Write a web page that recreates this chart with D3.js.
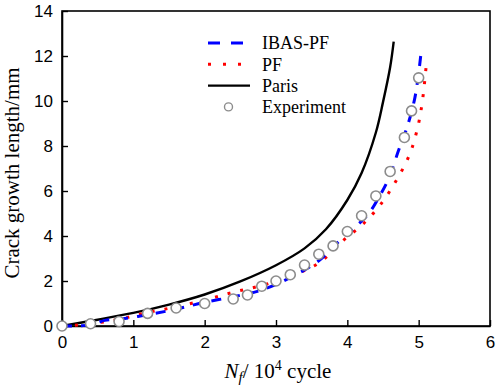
<!DOCTYPE html>
<html>
<head>
<meta charset="utf-8">
<script src="https://cdn.jsdelivr.net/npm/d3@7"></script>
<style>
  body { margin: 0; background: #fff; }
  svg { display: block; }
</style>
</head>
<body>
<div id="chart"></div>
<script>

// IBAS-PF (blue dashed)
var ibasX = [ 0, 0.4, 0.6, 0.8, 1.2, 1.6, 2.0, 2.4, 2.8, 3.2, 3.6, 3.88, 4.09, 4.3, 4.46, 4.58, 4.72, 4.84, 4.94, 4.99, 5.03 ];
var ibasY = [ 0, 0.05, 0.25, 0.3, 0.5, 0.75, 1.05, 1.3, 1.6, 2.15, 2.9, 3.75, 4.34, 5.0, 5.82, 6.56, 7.82, 8.86, 10.04, 11.0, 12.04 ];

// PF (red dotted)
var pfX = [ 0, 0.4, 0.8, 1.2, 1.6, 2.0, 2.4, 2.8, 3.2, 3.6, 3.95, 4.22, 4.47, 4.69, 4.87, 4.98, 5.05, 5.11 ];
var pfY = [ 0, 0.1, 0.3, 0.6, 0.85, 1.15, 1.5, 1.8, 2.2, 2.8, 3.82, 4.53, 5.42, 6.49, 7.6, 8.74, 9.94, 11.72 ];

// Paris (black solid)
var parisX = [ 0, 0.5, 1.0, 1.5, 2.0, 2.5, 3.0, 3.4, 3.7, 4.0, 4.2, 4.4, 4.5, 4.6, 4.65 ];
var parisY = [ 0, 0.28, 0.58, 0.95, 1.4, 1.98, 2.7, 3.45, 4.3, 5.6, 6.8, 8.6, 9.95, 11.5, 12.64 ];

// Experiment (circles)
var expX = [ 0, 0.4, 0.8, 1.2, 1.6, 2.0, 2.4, 2.6, 2.8, 3.0, 3.2, 3.4, 3.6, 3.8, 4.0, 4.2, 4.4, 4.6, 4.8, 4.9, 5.0 ];
var expY = [ 0, 0.1, 0.2, 0.56, 0.8, 1.0, 1.2, 1.38, 1.77, 2.0, 2.28, 2.71, 3.19, 3.56, 4.2, 4.9, 5.78, 6.87, 8.38, 9.56, 11.03 ];

var xTicks = [ 0, 1, 2, 3, 4, 5, 6 ];
var yTicks = [ 0, 2, 4, 6, 8, 10, 12, 14 ];

var legendNames = [ 'IBAS-PF', 'PF', 'Paris', 'Experiment' ];

var width = 498,
    height = 388;

var margin = { top: 11, right: 8, bottom: 62, left: 62 };

var svg = d3.select('#chart').append('svg')
    .attr('width', width)
    .attr('height', height);

var x = d3.scaleLinear()
    .domain([ 0, 6 ])
    .range([ margin.left, width - margin.right ]);

var y = d3.scaleLinear()
    .domain([ 0, 14 ])
    .range([ height - margin.bottom, margin.top ]);

function zip ( xs, ys ) {
    return xs.map( function ( v, i ) { return [ v, ys[ i ] ]; });
}

var line = d3.line()
    .x( function ( d ) { return x( d[0] ); })
    .y( function ( d ) { return y( d[1] ); })
    .curve( d3.curveCatmullRom.alpha( 0.5 ) );

// frame
svg.append('rect')
    .attr('x', x(0))
    .attr('y', y(14))
    .attr('width', x(6) - x(0))
    .attr('height', y(0) - y(14))
    .style('fill', 'none')
    .style('stroke', '#000')
    .style('stroke-width', 1.6);

// axes, ticks inward
var xAxis = svg.append('g')
    .attr('transform', 'translate(0,' + y(0) + ')')
    .call( d3.axisBottom( x ).tickValues( xTicks ).tickFormat( d3.format('d') )
        .tickSizeInner( -6 ).tickSizeOuter( 0 ).tickPadding( 10 ) );

var yAxis = svg.append('g')
    .attr('transform', 'translate(' + x(0) + ',0)')
    .call( d3.axisLeft( y ).tickValues( yTicks ).tickFormat( d3.format('d') )
        .tickSizeInner( -6 ).tickSizeOuter( 0 ).tickPadding( 9 ) );

[ xAxis, yAxis ].forEach( function ( a ) {
    a.select('.domain').style('stroke', '#000').style('stroke-width', 1.6);
    a.selectAll('.tick line').style('stroke', '#000').style('stroke-width', 1.4);
    a.selectAll('.tick text')
        .style('font-family', '"Liberation Sans", Arial, sans-serif')
        .style('font-size', '17px')
        .style('fill', '#000');
});

// series
svg.append('path')
    .datum( zip( parisX, parisY ) )
    .attr('d', line)
    .style('fill', 'none')
    .style('stroke', '#000')
    .style('stroke-width', 2.4);

svg.append('path')
    .datum( zip( pfX, pfY ) )
    .attr('d', line)
    .style('fill', 'none')
    .style('stroke', '#ff0000')
    .style('stroke-width', 3)
    .style('stroke-dasharray', '3,10');

svg.append('path')
    .datum( zip( ibasX, ibasY ) )
    .attr('d', line)
    .style('fill', 'none')
    .style('stroke', '#0000ff')
    .style('stroke-width', 3)
    .style('stroke-dasharray', '10,9');

svg.selectAll('.exp')
    .data( zip( expX, expY ) )
    .enter().append('circle')
    .attr('class', 'exp')
    .attr('cx', function ( d ) { return x( d[0] ); })
    .attr('cy', function ( d ) { return y( d[1] ); })
    .attr('r', 5)
    .style('fill', '#fff')
    .style('stroke', '#8c8c8c')
    .style('stroke-width', 1.6);

// legend
var legend = svg.append('g');
var lx0 = 208, lx1 = 250, ly = 43, lstep = 21.3;

legend.append('line')
    .attr('x1', lx0).attr('x2', lx1).attr('y1', ly).attr('y2', ly)
    .style('stroke', '#0000ff').style('stroke-width', 3).style('stroke-dasharray', '12,11');

legend.append('line')
    .attr('x1', lx0).attr('x2', lx1).attr('y1', ly + lstep).attr('y2', ly + lstep)
    .style('stroke', '#ff0000').style('stroke-width', 3).style('stroke-dasharray', '3,12');

legend.append('line')
    .attr('x1', lx0).attr('x2', lx1).attr('y1', ly + 2 * lstep).attr('y2', ly + 2 * lstep)
    .style('stroke', '#000').style('stroke-width', 2.4);

legend.append('circle')
    .attr('cx', 228.5).attr('cy', ly + 3 * lstep).attr('r', 4)
    .style('fill', '#fff').style('stroke', '#8c8c8c').style('stroke-width', 1.4);

legend.selectAll('text')
    .data( legendNames )
    .enter().append('text')
    .attr('x', 262)
    .attr('y', function ( d, i ) { return ly + i * lstep; })
    .attr('dy', '0.35em')
    .style('font-family', '"Liberation Serif", "Times New Roman", serif')
    .style('font-size', '18px')
    .style('fill', '#000')
    .text( function ( d ) { return d; });

// axis titles
svg.append('text')
    .attr('transform', 'translate(19,173) rotate(-90)')
    .attr('text-anchor', 'middle')
    .style('font-family', '"Liberation Serif", "Times New Roman", serif')
    .style('font-size', '21px')
    .style('fill', '#000')
    .text('Crack growth length/mm');

var xt = svg.append('text')
    .attr('x', 278)
    .attr('y', 378)
    .attr('text-anchor', 'middle')
    .style('font-family', '"Liberation Serif", "Times New Roman", serif')
    .style('font-size', '21px')
    .style('fill', '#000');

xt.append('tspan').style('font-style', 'italic').text('N');
xt.append('tspan').style('font-style', 'italic').style('font-size', '15px').attr('dy', 4).text('f');
xt.append('tspan').attr('dy', -4).text('/ 10');
xt.append('tspan').style('font-size', '14px').attr('dy', -8).text('4');
xt.append('tspan').attr('dy', 8).text(' cycle');

</script>
</body>
</html>
